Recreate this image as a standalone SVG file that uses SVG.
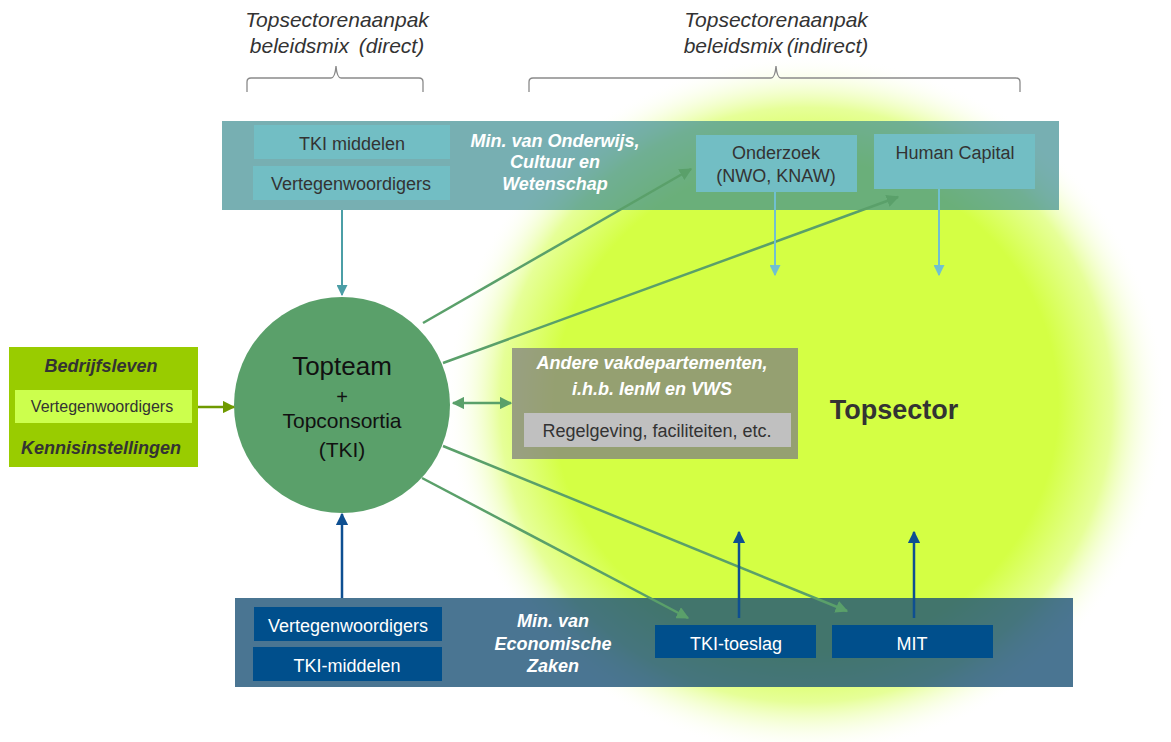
<svg xmlns="http://www.w3.org/2000/svg" width="1171" height="742" viewBox="0 0 1171 742">
<defs>
<radialGradient id="glow" cx="0.5" cy="0.5" r="0.5">
<stop offset="0" stop-color="#d4ff44"/>
<stop offset="0.7" stop-color="#d4ff44"/>
<stop offset="0.85" stop-color="#e6ff98"/>
<stop offset="1" stop-color="#ffffff" stop-opacity="0"/>
</radialGradient>
<marker id="mGreen" viewBox="0 0 10 10" refX="9" refY="5" markerWidth="5" markerHeight="5" orient="auto-start-reverse" markerUnits="strokeWidth"><path d="M0,0 L10,5 L0,10 z" fill="#5aa06a"/></marker>
<marker id="mTeal" viewBox="0 0 10 10" refX="9" refY="5" markerWidth="5.5" markerHeight="5.5" orient="auto" markerUnits="strokeWidth"><path d="M0,0 L10,5 L0,10 z" fill="#4b9ea6"/></marker>
<marker id="mLight" viewBox="0 0 10 10" refX="9" refY="5" markerWidth="5.5" markerHeight="5.5" orient="auto" markerUnits="strokeWidth"><path d="M0,0 L10,5 L0,10 z" fill="#70c0d0"/></marker>
<marker id="mBlue" viewBox="0 0 10 10" refX="9" refY="5" markerWidth="5" markerHeight="5" orient="auto" markerUnits="strokeWidth"><path d="M0,0 L10,5 L0,10 z" fill="#0e4f91"/></marker>
<marker id="mOlive" viewBox="0 0 10 10" refX="9" refY="5" markerWidth="5" markerHeight="5" orient="auto" markerUnits="strokeWidth"><path d="M0,0 L10,5 L0,10 z" fill="#6f9a00"/></marker>
</defs>
<style>
text{font-family:"Liberation Sans",Arial,sans-serif;}
.title{font-size:21px;font-style:italic;fill:#333;text-anchor:middle;}
.brace{fill:none;stroke:#8a8a8a;stroke-width:1.3;}
.lbl{font-size:18px;fill:#333;text-anchor:middle;}
.wlbl{font-size:18px;fill:#fff;text-anchor:middle;}
.bi{font-size:18px;font-weight:bold;font-style:italic;text-anchor:middle;}
.tealbox{fill:#72bec4;}
.bluebox{fill:#004f8c;}
.g{fill:none;stroke:#5aa06a;stroke-width:2.5;}
</style>
<rect width="1171" height="742" fill="#ffffff"/>
<ellipse id="glow-area" cx="806" cy="405" rx="360" ry="350" fill="url(#glow)"/>

<g id="title-direct">
<text class="title" x="337" y="27">Topsectorenaanpak</text>
<text class="title" x="337" y="53" word-spacing="4">beleidsmix (direct)</text>
<path class="brace" d="M247,92 V82 Q247,78 251,78 H331 Q335,78 336,66 Q337,78 341,78 H419 Q423,78 423,82 V92"/>
</g>
<g id="title-indirect">
<text class="title" x="776" y="27">Topsectorenaanpak</text>
<text class="title" x="776" y="53" word-spacing="-2">beleidsmix (indirect)</text>
<path class="brace" d="M529,92 V82 Q529,78 533,78 H771 Q775,78 776,66 Q777,78 781,78 H1016 Q1020,78 1020,82 V92"/>
</g>

<g id="ocw-band">
<rect x="222" y="121" width="837" height="89" fill="rgb(61,141,146)" fill-opacity="0.7"/>
<text class="bi" fill="#fff" x="555" y="147">Min. van Onderwijs,</text>
<text class="bi" fill="#fff" x="555" y="168">Cultuur en</text>
<text class="bi" fill="#fff" x="555" y="190">Wetenschap</text>
</g>
<g id="ocw-tki-middelen"><rect class="tealbox" x="254" y="125" width="196" height="34"/><text class="lbl" x="352" y="150">TKI middelen</text></g>
<g id="ocw-vertegenwoordigers"><rect class="tealbox" x="253" y="166" width="197" height="34"/><text class="lbl" x="351" y="190">Vertegenwoordigers</text></g>
<g id="onderzoek"><rect class="tealbox" x="696" y="135" width="161" height="57"/><text class="lbl" x="776" y="159">Onderzoek</text><text class="lbl" x="776" y="182">(NWO, KNAW)</text></g>
<g id="human-capital"><rect class="tealbox" x="874" y="134" width="161" height="55"/><text class="lbl" x="955" y="159">Human Capital</text></g>

<g id="ez-band">
<rect x="235" y="598" width="838" height="89" fill="rgb(29,82,119)" fill-opacity="0.8"/>
<text class="bi" fill="#fff" x="553" y="627">Min. van</text>
<text class="bi" fill="#fff" x="553" y="650">Economische</text>
<text class="bi" fill="#fff" x="553" y="672">Zaken</text>
</g>
<g id="ez-vertegenwoordigers"><rect class="bluebox" x="254" y="607" width="188" height="34"/><text class="wlbl" x="348" y="632">Vertegenwoordigers</text></g>
<g id="ez-tki-middelen"><rect class="bluebox" x="253" y="647" width="189" height="34"/><text class="wlbl" x="347" y="672">TKI-middelen</text></g>
<g id="tki-toeslag"><rect class="bluebox" x="655" y="625" width="161" height="33"/><text class="wlbl" x="736" y="650">TKI-toeslag</text></g>
<g id="mit"><rect class="bluebox" x="832" y="625" width="161" height="33"/><text class="wlbl" x="912" y="650">MIT</text></g>

<g id="stakeholders">
<rect x="9" y="347" width="189" height="120" fill="#99cc00"/>
<rect x="15" y="390" width="177" height="33" fill="#ccff4d"/>
<text class="bi" fill="#333" x="101" y="372">Bedrijfsleven</text>
<text x="102" y="412" font-size="16" fill="#333" text-anchor="middle">Vertegenwoordigers</text>
<text class="bi" fill="#333" x="101" y="454">Kennisinstellingen</text>
</g>

<g id="vakdepartementen">
<rect x="512" y="348" width="286" height="111" fill="#808080" fill-opacity="0.75"/>
<rect x="524" y="413" width="267" height="34" fill="#c0c0c0"/>
<text class="bi" fill="#fff" x="652" y="369">Andere vakdepartementen,</text>
<text class="bi" fill="#fff" x="652" y="395">i.h.b. IenM en VWS</text>
<text class="lbl" x="657" y="437">Regelgeving, faciliteiten, etc.</text>
</g>

<g id="topsector"><text x="894" y="419" font-size="27" font-weight="bold" fill="#333" text-anchor="middle">Topsector</text></g>

<g id="topteam">
<circle cx="342" cy="405" r="108" fill="#5aa06a"/>
<text x="342" y="375" font-size="26" fill="#111" text-anchor="middle">Topteam</text>
<text x="342" y="404" font-size="20" fill="#111" text-anchor="middle">+</text>
<text x="342" y="428" font-size="21" fill="#111" text-anchor="middle">Topconsortia</text>
<text x="342" y="457" font-size="21" fill="#111" text-anchor="middle">(TKI)</text>
</g>

<g id="connectors">
<line x1="342" y1="210" x2="342" y2="295" stroke="#4b9ea6" stroke-width="2" marker-end="url(#mTeal)"/>
<line x1="342" y1="598" x2="342" y2="514" stroke="#0e4f91" stroke-width="2.5" marker-end="url(#mBlue)"/>
<line x1="198" y1="407" x2="234" y2="407" stroke="#6f9a00" stroke-width="2.5" marker-end="url(#mOlive)"/>
<line class="g" x1="453" y1="403" x2="511" y2="403" marker-start="url(#mGreen)" marker-end="url(#mGreen)"/>
<line class="g" x1="423" y1="323" x2="691" y2="169" marker-end="url(#mGreen)"/>
<path class="g" d="M443,363 Q660,283 898,197" marker-end="url(#mGreen)"/>
<line class="g" x1="422" y1="478" x2="688" y2="618" marker-end="url(#mGreen)"/>
<line class="g" x1="443" y1="446" x2="847" y2="611" marker-end="url(#mGreen)"/>
<line x1="775" y1="192" x2="775" y2="275" stroke="#70c0d0" stroke-width="2" marker-end="url(#mLight)"/>
<line x1="939" y1="189" x2="939" y2="275" stroke="#70c0d0" stroke-width="2" marker-end="url(#mLight)"/>
<line x1="739" y1="618" x2="739" y2="532" stroke="#0e4f91" stroke-width="2.5" marker-end="url(#mBlue)"/>
<line x1="914" y1="618" x2="914" y2="532" stroke="#0e4f91" stroke-width="2.5" marker-end="url(#mBlue)"/>
</g>
</svg>
